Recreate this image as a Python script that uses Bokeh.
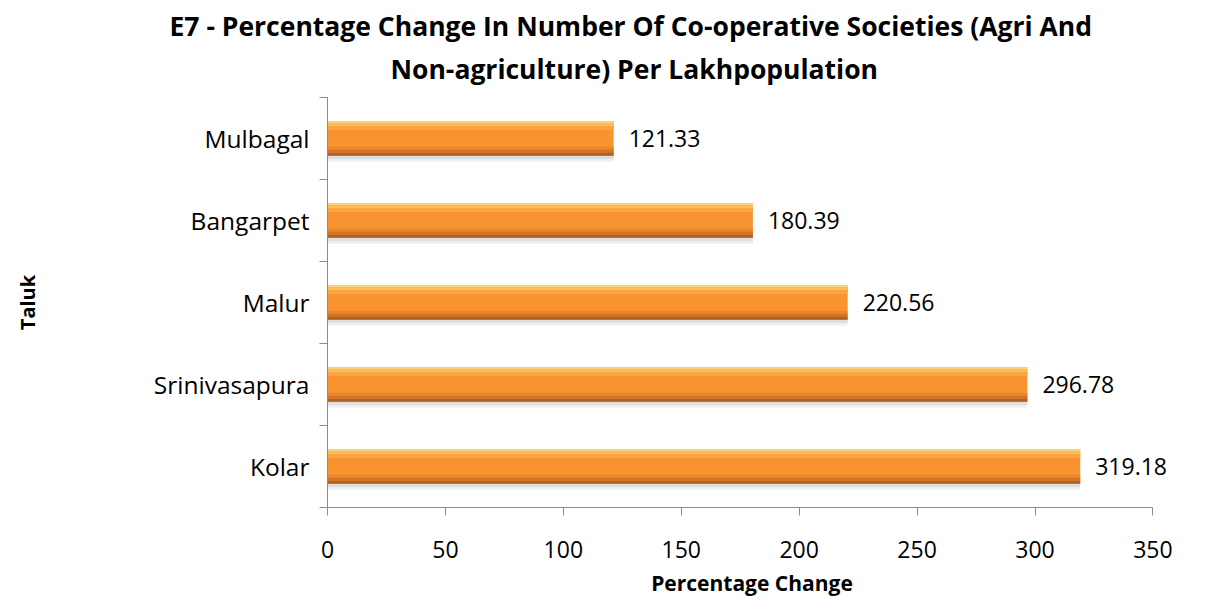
from bokeh.plotting import figure
from bokeh.models import ColumnDataSource, FixedTicker, LabelSet, Title, Range1d
from bokeh.transform import dodge
from bokeh.core.properties import value
from bokeh.embed import file_html
from bokeh.resources import INLINE

# ---- data ----
taluks = ["Kolar", "Srinivasapura", "Malur", "Bangarpet", "Mulbagal"]
pct_change = [319.18, 296.78, 220.56, 180.39, 121.33]
x_ticks = [0, 50, 100, 150, 200, 250, 300, 350]
title_line1 = "E7 - Percentage Change In Number Of Co-operative Societies (Agri And"
title_line2 = "Non-agriculture) Per Lakhpopulation"
x_title = "Percentage Change"
y_title = "Taluk"

FONT = "Open Sans"
pos = [i + 0.5 for i in range(len(taluks))]
labels = [f"{v:.2f}" for v in pct_change]
src = ColumnDataSource(dict(y=pos, v=pct_change, lab=labels))

W, H = 1198, 599
p = figure(width=W, height=H, output_backend="svg", toolbar_location=None,
           x_range=Range1d(0, 360), y_range=Range1d(0, len(taluks)),
           min_border_left=327, min_border_right=22, min_border_top=97,
           min_border_bottom=79, title=None)
p.outline_line_color = None
p.xgrid.visible = False
p.ygrid.visible = False
p.background_fill_color = "white"
p.border_fill_color = "white"

t2 = Title(text=title_line2, align="left", offset=63, text_font=FONT,
           text_font_size="26.5px", text_font_style="bold", text_color="black",
           standoff=22, text_line_height=1.25)
p.add_layout(t2, "above")
t1 = Title(text=title_line1, align="left", offset=-158, text_font=FONT,
           text_font_size="26.5px", text_font_style="bold", text_color="black",
           standoff=-12, text_line_height=1.25)
p.add_layout(t1, "above")

BAR_H = 0.42
# shadow under bars
p.hbar(y=dodge("y", -BAR_H / 2 - 0.02, range=p.y_range), left=0, right="v",
       height=0.04, source=src, fill_color="#DEDEDE", line_color=None)
p.hbar(y=dodge("y", -BAR_H / 2 - 0.055, range=p.y_range), left=0, right="v",
       height=0.03, source=src, fill_color="#EFEFEF", line_color=None)
# base bar
p.hbar(y="y", left=0, right="v", height=BAR_H, source=src,
       fill_color="#F8932F", line_color=None)
strips = [
    (0.00, 0.06, "#FDD57C"),
    (0.06, 0.14, "#FBBE58"),
    (0.14, 0.25, "#FAA542"),
    (0.74, 0.83, "#E9862C"),
    (0.83, 0.92, "#D17428"),
    (0.92, 1.00, "#B16020"),
]
for a, b, col in strips:
    off = BAR_H / 2 - (a + b) / 2 * BAR_H
    p.hbar(y=dodge("y", off, range=p.y_range), left=0, right="v",
           height=(b - a) * BAR_H, source=src, fill_color=col, line_color=None)

labs = LabelSet(x="v", y="y", text="lab", source=src, x_offset=15,
                text_align="left", text_baseline="middle", text_font=value(FONT),
                text_font_size="23px", text_color="black")
p.add_layout(labs)

AX = "#8C8C8C"
xa = p.xaxis[0]
xa.ticker = FixedTicker(ticks=x_ticks)
xa.bounds = (0, 350)
xa.axis_line_color = AX
xa.major_tick_line_color = AX
xa.major_tick_out = 8
xa.major_tick_in = 0
xa.minor_tick_line_color = None
xa.major_label_text_font = FONT
xa.major_label_text_font_size = "23px"
xa.major_label_text_color = "black"
xa.major_label_standoff = 25
xa.axis_label = x_title
xa.axis_label_text_font = FONT
xa.axis_label_text_font_size = "21px"
xa.axis_label_text_font_style = "bold"
xa.axis_label_text_color = "black"
xa.axis_label_standoff = 8

ya = p.yaxis[0]
ya.ticker = FixedTicker(ticks=pos, minor_ticks=list(range(len(taluks) + 1)))
ya.major_label_overrides = {pos[i]: taluks[i] for i in range(len(taluks))}
ya.axis_line_color = AX
ya.major_tick_line_color = None
ya.major_tick_out = 0
ya.major_tick_in = 0
ya.minor_tick_line_color = AX
ya.minor_tick_out = 8
ya.minor_tick_in = 0
ya.major_label_text_font = FONT
ya.major_label_text_font_size = "24.5px"
ya.major_label_text_color = "black"
ya.major_label_standoff = 10
ya.axis_label = y_title
ya.axis_label_text_font = FONT
ya.axis_label_text_font_size = "20px"
ya.axis_label_text_font_style = "bold"
ya.axis_label_text_color = "black"
ya.axis_label_standoff = 110

open("out.html", "w").write(file_html(p, INLINE))
